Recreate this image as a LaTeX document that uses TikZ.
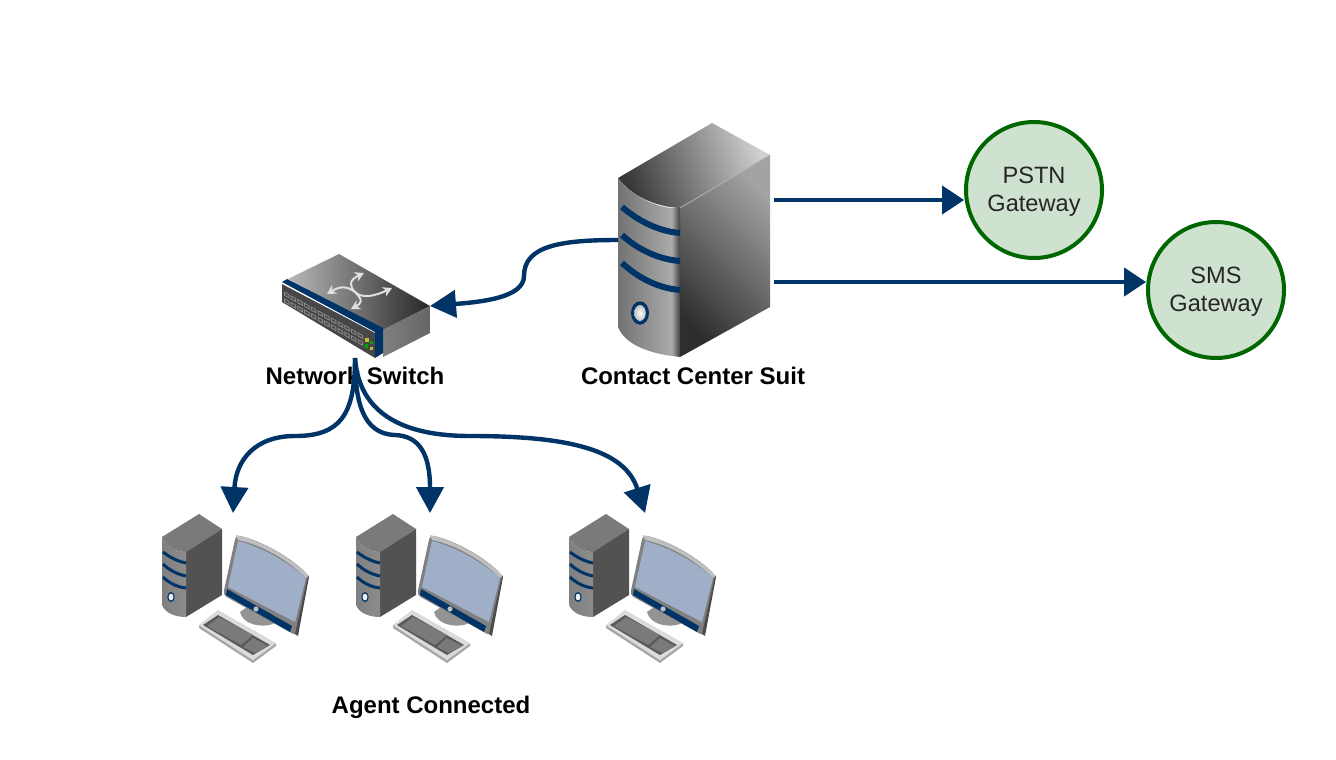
\documentclass[tikz,border=0pt]{standalone}
\usepackage{fontspec}
\setmainfont{Liberation Sans}
\usetikzlibrary{arrows.meta}
\definecolor{navy}{HTML}{003366}
\definecolor{gwfill}{HTML}{CFE2CF}
\definecolor{gwline}{HTML}{006600}
\definecolor{screenblue}{HTML}{A0AFC8}
\newcommand{\gwtop}{\rule{0pt}{10.4pt}}
\tikzset{
  link/.style={draw=navy,line width=2.2pt,-{Triangle[length=13pt,width=13.5pt]}},
  straightlink/.style={draw=navy,line width=2.2pt,-{Triangle[length=11pt,width=14pt]}},
  gateway/.style={circle,draw=gwline,fill=gwfill,line width=2pt,minimum size=68pt,inner sep=0pt,align=center,font=\fontsize{11.8pt}{14pt}\selectfont,text=black!85},
  caption/.style={font=\bfseries\fontsize{12pt}{14pt}\selectfont,text=black,inner sep=0pt,anchor=base},
  band/.style={draw=navy,line width=3pt},
  pcband/.style={draw=navy,line width=1.5pt},
  whitearrow/.style={draw=black!12,line width=1pt},
  pcunit/.pic={
    % tower
    \fill[black!52] (162,537) -- (199,514) -- (222,529) -- (186,552) .. controls (175,552) and (165,545) .. (162,537) -- cycle;
    \fill[black!68] (186,552) -- (222,529) -- (222,595) -- (186,617) -- cycle;
    \shade[left color=black!50,middle color=black!38,right color=black!45]
      (162,537) .. controls (165,545) and (175,552) .. (186,552) -- (186,617) .. controls (175,617) and (165,613) .. (162,605) -- cycle;
    \draw[pcband] (163,552) .. controls (168,556) and (176,561) .. (186,563);
    \draw[pcband] (163,564) .. controls (168,569) and (176,574) .. (186,576);
    \draw[pcband] (163,577) .. controls (168,582) and (176,587) .. (186,588);
    \fill[navy] (171,597) ellipse (3.7 and 5);
    \fill[black!6] (171,597) ellipse (2.4 and 3.4);
    % keyboard
    \fill[black!35] (199,625) -- (253,660) -- (276,643) -- (276,646) -- (253,663) -- (199,628) -- cycle;
    \fill[black!14] (218,610) -- (276,643) -- (253,660) -- (199,625) -- cycle;
    \fill[black!65] (218,615) -- (270,645) -- (253,655) -- (203,625) -- cycle;
    \fill[black!52] (219,617) -- (253,635) -- (241,645) -- (207,626) -- cycle;
    \fill[black!52] (253,638) -- (268,646) -- (255,653) -- (243,647) -- cycle;
    % stand
    \fill[black!42] (240,612) .. controls (243,625) and (262,628) .. (273,624) -- (275,622) -- (250,605) -- cycle;
    % monitor
    \fill[black!50,rounded corners=2pt]
      (236,535) .. controls (262,541) and (290,557) .. (308,575) -- (297,636) -- (223,595) -- cycle;
    \fill[black!70] (308,575) -- (309,577) -- (298,636) -- (295,634) -- cycle;
    \fill[black!25] (236,535) .. controls (262,541) and (290,557) .. (308,575) -- (306,578) .. controls (288,560) and (262,545) .. (238,540) -- cycle;
    \fill[screenblue] (238,541) .. controls (262,547) and (288,562) .. (306,578) -- (295,622) -- (228,587) -- cycle;
    \fill[navy] (227,589) -- (292,626) -- (290,632) -- (226,595) -- cycle;
    \fill[black!25] (256,609) circle (2.6);
  },
}
\begin{document}
\begin{tikzpicture}[x=0.5pt,y=-0.5pt]
\useasboundingbox (0,0) rectangle (1336,759);

% captions sit under the connectors
\node[caption] (switchlabel) at (355,384) {Network Switch};
\node[caption] (serverlabel) at (693,384) {Contact Center Suit};
\node[caption] (agentlabel) at (431,713) {Agent Connected};

% server
\shade[left color=black!78,right color=black!18,shading angle=110]
  (618,178) -- (712,123) -- (770,155) -- (680,208) .. controls (655,207) and (630,195) .. (618,178) -- cycle;
\shade[left color=black!82,right color=black!36,shading angle=135]
  (680,208) -- (770,155) -- (770,307) -- (680,357) -- cycle;
\shade[left color=black!55,middle color=black!33,right color=black!33]
  (618,178) .. controls (630,195) and (655,207) .. (672,208) -- (672,356) .. controls (650,353) and (625,345) .. (618,327) -- cycle;
\shade[left color=black!35,right color=black!75]
  (672,208) -- (680,208) -- (680,357) -- (672,356) -- cycle;
\draw[white!70!black,line width=0.4pt] (680,208) -- (770,155);
\draw[band] (622,207) .. controls (635,218) and (655,231) .. (680,233);
\draw[band] (622,235) .. controls (635,247) and (655,259) .. (680,261);
\draw[band] (622,263) .. controls (635,275) and (655,288) .. (680,290);
\fill[navy] (640,313) ellipse (9 and 11.7);
\shade[inner color=white,outer color=black!25] (640,313) ellipse (5.8 and 8);

% switch
\shade[left color=black!28,right color=black!85]
  (288,279) -- (339,254) -- (430,306) -- (383,330) -- cycle;
\shade[left color=black!50,right color=black!60]
  (383,330) -- (430,306) -- (430,333) -- (383,357) -- cycle;
\fill[black!72] (282,284) -- (375,333) -- (375,358) -- (282,302) -- cycle;
\fill[navy] (282,282) -- (287,279) -- (383,328) -- (383,353) -- (375,358) -- (375,332) -- cycle;
\foreach \i in {0,...,11}{
  \foreach \r in {0,6.7}{
    \fill[black!45] ({284+\i*6.7},{291.5+\i*3.7+\r}) -- ++(5.4,3) -- ++(0,4) -- ++(-5.4,-3) -- cycle;
    \fill[black!70] ({285+\i*6.7},{293+\i*3.7+\r}) -- ++(3.4,1.9) -- ++(0,2) -- ++(-3.4,-1.9) -- cycle;
  }
}
\fill[yellow!75!black] (365,338) rectangle +(3.5,3.5);
\fill[green!65!black] (369.5,340.5) rectangle +(3.5,3.5);
\fill[green!65!black] (364.5,344) rectangle +(3.5,3.5);
\fill[yellow!75!black] (369.5,346.5) rectangle +(3.5,3.5);
\draw[whitearrow,{Stealth[length=4.5pt,width=5pt]}-{Stealth[length=4.5pt,width=5pt]}]
  (327,294) .. controls (340,286) and (347,286) .. (355,292) .. controls (362,299) and (375,296) .. (392,288);
\draw[whitearrow,{Stealth[length=4.5pt,width=5pt]}-{Stealth[length=4.5pt,width=5pt]}]
  (364,273) .. controls (349,280) and (349,286) .. (355,292) .. controls (363,300) and (362,303) .. (351,309);

% workstations
\pic (pca) at (0,0) {pcunit};
\pic (pcb) at (194,0) {pcunit};
\pic (pcc) at (407,0) {pcunit};

% gateways
\node[gateway] (pstn) at (1034,190) {\gwtop PSTN\\Gateway};
\node[gateway] (sms) at (1216,290) {\gwtop SMS\\Gateway};

% anchors of the connectors
\coordinate (srvA) at (774,200);
\coordinate (srvB) at (774,282);
\coordinate (srvC) at (618,240);
\coordinate (swIn) at (430,306);
\coordinate (swOut) at (355,358);
\coordinate (pcaIn) at (233,513);
\coordinate (pcbIn) at (430,513);
\coordinate (pccIn) at (645,513);

\draw[straightlink] (srvA) -- (srvA -| pstn.west);
\draw[straightlink] (srvB) -- (srvB -| sms.west);
\draw[link] (srvC) .. controls (560,240) and (524,246) .. (524,276) .. controls (524,298) and (480,302) .. (swIn);
\draw[link] (swOut) .. controls (355,415) and (340,436) .. (295,436) .. controls (255,436) and (236,460) .. (pcaIn);
\draw[link] (swOut) .. controls (355,400) and (362,434) .. (395,435) .. controls (420,436) and (430,455) .. (pcbIn);
\draw[link] (swOut) .. controls (358,400) and (385,436) .. (470,436) .. controls (570,436) and (625,450) .. (pccIn);
\end{tikzpicture}
\end{document}
